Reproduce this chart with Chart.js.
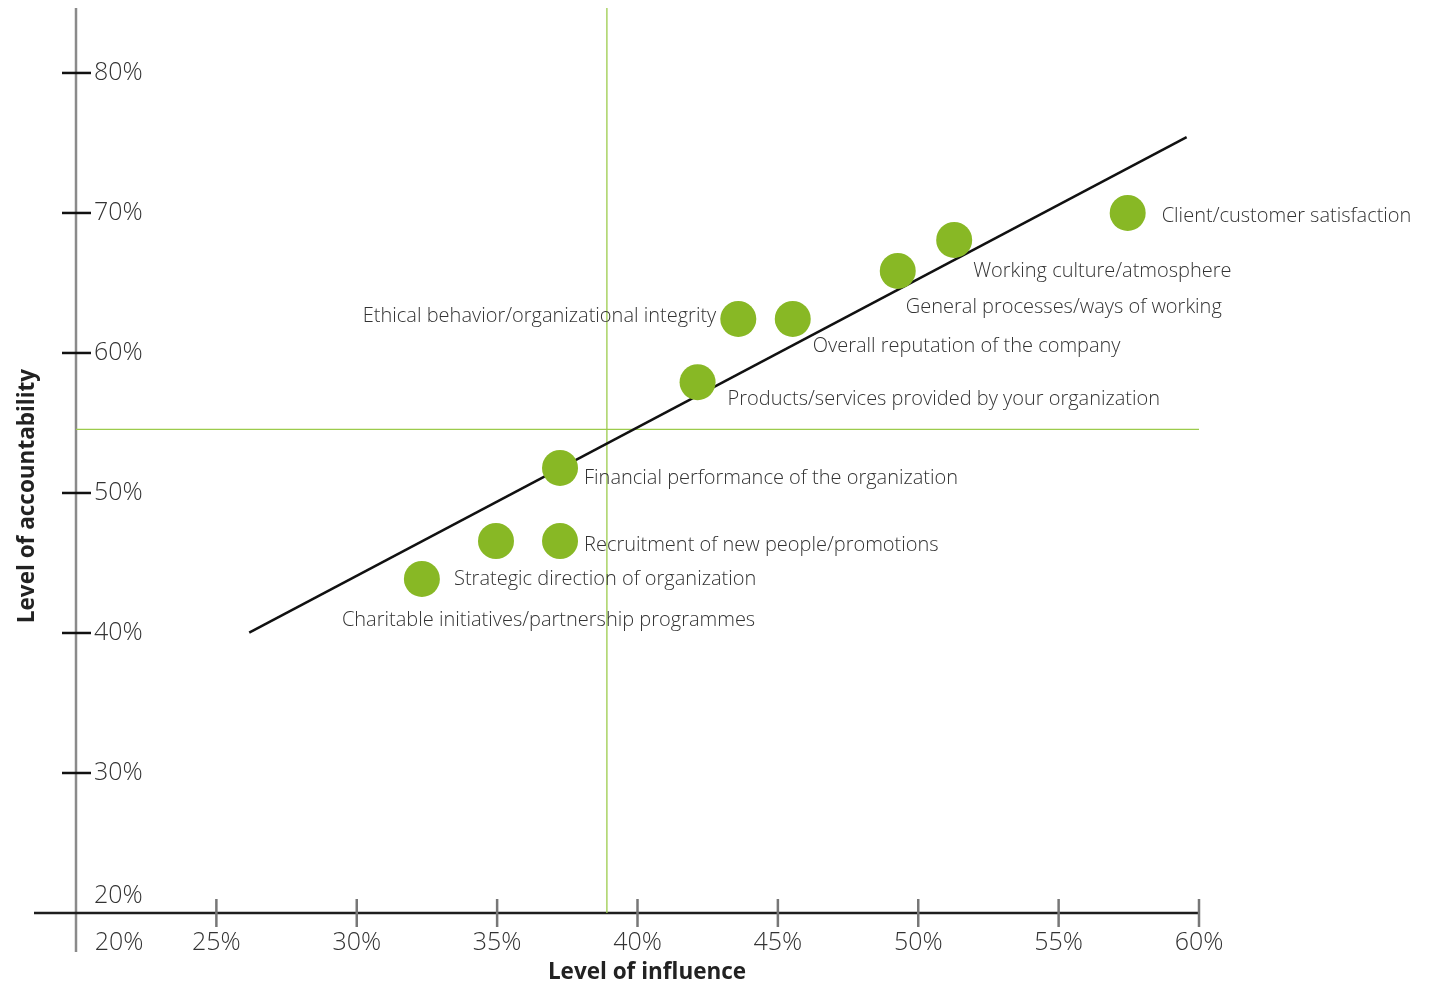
<!DOCTYPE html>
<html>
<head>
<meta charset="utf-8">
<script src="https://cdn.jsdelivr.net/npm/chart.js@4.4.3/dist/chart.umd.min.js"></script>
<style>
    html, body { margin: 0; padding: 0; background: #ffffff; }
    #wrap { width: 1437px; height: 985px; position: relative; }
</style>
</head>
<body>
<div id="wrap"><canvas id="chart"></canvas></div>
<script>
    'use strict';

    // Data
    const categories = [
        'Client/customer satisfaction',
        'Working culture/atmosphere',
        'General processes/ways of working',
        'Overall reputation of the company',
        'Ethical behavior/organizational integrity',
        'Products/services provided by your organization',
        'Financial performance of the organization',
        'Recruitment of new people/promotions',
        'Strategic direction of organization',
        'Charitable initiatives/partnership programmes',
    ];
    const influence = [57.46, 51.28, 49.27, 45.53, 43.59, 42.14, 37.24, 37.24, 34.96, 32.32];
    const accountability = [70.0, 68.07, 65.86, 62.43, 62.43, 57.91, 51.79, 46.57, 46.57, 43.86];

    const trendInfluence = [26.17, 59.56];
    const trendAccountability = [40.02, 75.41];

    const thresholdInfluence = 38.91;
    const thresholdAccountability = 54.55;

    const xTickValues = [20, 25, 30, 35, 40, 45, 50, 55, 60];
    const xTickLabels = ['20%', '25%', '30%', '35%', '40%', '45%', '50%', '55%', '60%'];
    const yTickValues = [20, 30, 40, 50, 60, 70, 80];
    const yTickLabels = ['20%', '30%', '40%', '50%', '60%', '70%', '80%'];

    const GREEN = '#88b825';
    const LINE_GREEN = '#9ccb4c';
    const TEXT = '#333333';
    const LABEL_FONT = '300 20px "Open Sans"';

    // where each point label sits relative to its dot
    const labelPlacement = {
        'Client/customer satisfaction': { dx: 34, dy: 3, align: 'left' },
        'Working culture/atmosphere': { dx: 19, dy: 31, align: 'left' },
        'General processes/ways of working': { dx: 8, dy: 36, align: 'left' },
        'Overall reputation of the company': { dx: 20, dy: 27, align: 'left' },
        'Ethical behavior/organizational integrity': { dx: -22, dy: -3, align: 'right' },
        'Products/services provided by your organization': { dx: 30, dy: 17, align: 'left' },
        'Financial performance of the organization': { dx: 24, dy: 10, align: 'left' },
        'Recruitment of new people/promotions': { dx: 24, dy: 4, align: 'left' },
        'Strategic direction of organization': { dx: -42, dy: 38, align: 'left' },
        'Charitable initiatives/partnership programmes': { dx: -80, dy: 41, align: 'left' },
    };

    const axesPlugin = {
        id: 'crossAxes',
        beforeDatasetsDraw(chart) {
            const { ctx, scales } = chart;
            const x = scales.x;
            const y = scales.y;
            const x0 = x.getPixelForValue(20);
            const y0 = y.getPixelForValue(20);
            ctx.save();

            // vertical axis
            ctx.strokeStyle = '#8a8a8a';
            ctx.lineWidth = 2.5;
            ctx.beginPath();
            ctx.moveTo(x0, chart.chartArea.top);
            ctx.lineTo(x0, y0 + 39);
            ctx.stroke();

            // horizontal axis
            ctx.strokeStyle = '#1e1e1e';
            ctx.lineWidth = 2.5;
            ctx.beginPath();
            ctx.moveTo(x0 - 42, y0);
            ctx.lineTo(x.getPixelForValue(60), y0);
            ctx.stroke();

            // x ticks
            ctx.strokeStyle = '#777777';
            ctx.lineWidth = 2.5;
            xTickValues.forEach((v) => {
                if (v === 20) return;
                const px = x.getPixelForValue(v);
                ctx.beginPath();
                ctx.moveTo(px, y0 - 14);
                ctx.lineTo(px, y0 + 14);
                ctx.stroke();
            });

            // y ticks
            ctx.strokeStyle = '#111111';
            yTickValues.forEach((v) => {
                if (v === 20) return;
                const py = y.getPixelForValue(v);
                ctx.beginPath();
                ctx.moveTo(x0 - 14, py);
                ctx.lineTo(x0 + 15, py);
                ctx.stroke();
            });

            // tick labels
            ctx.fillStyle = TEXT;
            ctx.font = '300 25px "Open Sans"';
            ctx.textBaseline = 'middle';
            ctx.textAlign = 'center';
            xTickValues.forEach((v, i) => {
                const px = v === 20 ? x0 + 43 : x.getPixelForValue(v);
                ctx.fillText(xTickLabels[i], px, y0 + 30);
            });
            ctx.textAlign = 'left';
            yTickValues.forEach((v, i) => {
                const py = v === 20 ? y0 - 17 : y.getPixelForValue(v);
                ctx.fillText(yTickLabels[i], x0 + 18, py);
            });

            // axis titles
            ctx.font = 'bold 22.5px "Open Sans"';
            ctx.fillStyle = '#222222';
            ctx.textAlign = 'center';
            ctx.fillText('Level of influence', 647, y0 + 60);
            ctx.save();
            ctx.translate(28, 496);
            ctx.rotate(-Math.PI / 2);
            ctx.fillText('Level of accountability', 0, 0);
            ctx.restore();

            ctx.restore();
        },
        afterDatasetsDraw(chart) {
            const { ctx } = chart;
            const meta = chart.getDatasetMeta(0);
            ctx.save();
            ctx.font = LABEL_FONT;
            ctx.fillStyle = TEXT;
            ctx.textBaseline = 'middle';
            meta.data.forEach((pt, i) => {
                const place = labelPlacement[categories[i]];
                ctx.textAlign = place.align;
                ctx.fillText(categories[i], pt.x + place.dx, pt.y + place.dy);
            });
            ctx.restore();
        },
    };

    const points = influence.map((v, i) => ({ x: v, y: accountability[i] }));
    const trend = trendInfluence.map((v, i) => ({ x: v, y: trendAccountability[i] }));

    new Chart(document.getElementById('chart'), {
        type: 'scatter',
        data: {
            datasets: [
                {
                    label: 'Areas',
                    data: points,
                    backgroundColor: GREEN,
                    borderColor: GREEN,
                    pointRadius: 18,
                    pointHoverRadius: 18,
                    borderWidth: 0,
                    order: 0,
                },
                {
                    type: 'line',
                    label: 'Trend',
                    data: trend,
                    borderColor: '#111111',
                    borderWidth: 2.5,
                    pointRadius: 0,
                    fill: false,
                    order: 1,
                },
                {
                    type: 'line',
                    label: 'Influence threshold',
                    data: [
                        { x: thresholdInfluence, y: 20 },
                        { x: thresholdInfluence, y: 84.64 },
                    ],
                    borderColor: LINE_GREEN,
                    borderWidth: 1.3,
                    pointRadius: 0,
                    fill: false,
                    order: 2,
                },
                {
                    type: 'line',
                    label: 'Accountability threshold',
                    data: [
                        { x: 20, y: thresholdAccountability },
                        { x: 60, y: thresholdAccountability },
                    ],
                    borderColor: LINE_GREEN,
                    borderWidth: 1.3,
                    pointRadius: 0,
                    fill: false,
                    order: 2,
                },
            ],
        },
        options: {
            responsive: true,
            maintainAspectRatio: false,
            animation: false,
            layout: {
                autoPadding: false,
                padding: { left: 76, right: 238, top: 8, bottom: 72 },
            },
            plugins: {
                legend: { display: false },
                tooltip: { enabled: false },
            },
            scales: {
                x: { type: 'linear', min: 20, max: 60, display: false },
                y: { type: 'linear', min: 20, max: 84.64, display: false },
            },
        },
        plugins: [axesPlugin],
    });
</script>
</body>
</html>
